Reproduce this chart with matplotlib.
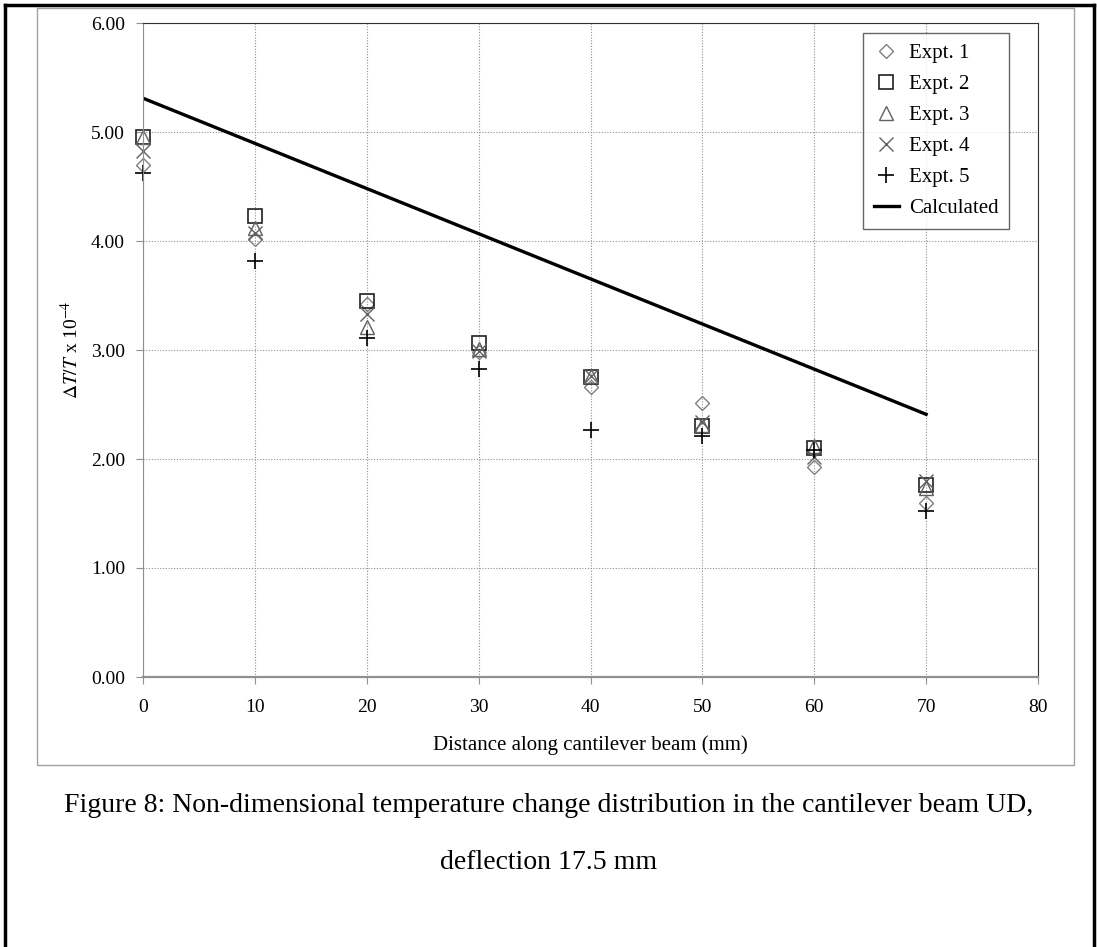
import matplotlib
matplotlib.use('Agg')
import matplotlib.pyplot as plt
from matplotlib.patches import Rectangle
from matplotlib.lines import Line2D

plt.rcParams['font.family'] = 'Liberation Serif'
plt.rcParams['mathtext.fontset'] = 'stix'

# data
dist = [0, 10, 20, 30, 40, 50, 60, 70]
expt1 = [4.70, 4.02, 3.42, 2.98, 2.66, 2.51, 1.93, 1.60]
expt2 = [4.95, 4.23, 3.45, 3.06, 2.75, 2.30, 2.10, 1.76]
expt3 = [4.95, 4.12, 3.21, 3.01, 2.76, 2.31, 2.12, 1.73]
expt4 = [4.83, 4.07, 3.33, 2.99, 2.76, 2.34, 2.02, 1.80]
expt5 = [4.62, 3.82, 3.11, 2.83, 2.27, 2.21, 2.08, 1.52]
calc_x = [0, 70]
calc_y = [5.31, 2.41]

fig = plt.figure(figsize=(10.97, 9.47), dpi=100)

# page frame and chart frame
fig.add_artist(Line2D([5/1097, 5/1097], [0, 1 - 5/947], transform=fig.transFigure, color='black', lw=2.5))
fig.add_artist(Line2D([5/1097, 1 - 3/1097], [1 - 5/947, 1 - 5/947], transform=fig.transFigure, color='black', lw=2.5))
fig.add_artist(Line2D([1 - 3/1097, 1 - 3/1097], [0, 1 - 5/947], transform=fig.transFigure, color='black', lw=2.5))
fig.add_artist(Rectangle((37/1097, 1 - 765/947), (1074 - 37)/1097, (765 - 8)/947,
                         transform=fig.transFigure, fill=False, edgecolor='#a0a0a0', lw=1))

ax = fig.add_axes([143/1097, 1 - 677/947, 895/1097, 654/947])

ms = 9
ax.plot(dist, expt1, ls='None', marker='D', ms=ms*0.78, mfc='none', mec='#808080', mew=1, label='Expt. 1', clip_on=False)
ax.plot(dist, expt2, ls='None', marker='s', ms=ms+1, mfc='none', mec='#202020', mew=1.2, label='Expt. 2', clip_on=False)
ax.plot(dist, expt3, ls='None', marker='^', ms=ms+1, mfc='none', mec='#606060', mew=1, label='Expt. 3', clip_on=False)
ax.plot(dist, expt4, ls='None', marker='x', ms=ms+1, mec='#606060', mew=1, label='Expt. 4', clip_on=False)
ax.plot(dist, expt5, ls='None', marker='+', ms=ms+2, mec='black', mew=1.2, label='Expt. 5', clip_on=False)
ax.plot(calc_x, calc_y, color='black', lw=2.4, label='Calculated')

ax.set_xlim(0, 80)
ax.set_ylim(0, 6)
ax.set_xticks(range(0, 81, 10))
ax.set_yticks([0, 1, 2, 3, 4, 5, 6])
ax.set_yticklabels([f'{v:.2f}' for v in [0, 1, 2, 3, 4, 5, 6]])
ax.grid(True, linestyle=(0, (1, 1.5)), color='#909090', lw=0.8)
ax.set_axisbelow(True)
for s in ['left', 'bottom']:
    ax.spines[s].set_color('#909090')
for s in ['top', 'right']:
    ax.spines[s].set_color('#303030')
ax.spines['bottom'].set_linewidth(1.6)
ax.tick_params(direction='out', length=5, color='#909090', labelsize=14, pad=8)
ax.tick_params(axis='x', pad=11)

ax.set_xlabel('Distance along cantilever beam (mm)', fontsize=15, labelpad=14)
ax.set_ylabel(r'$\Delta T/T$ x 10$^{-4}$', fontsize=14, labelpad=6)

leg = ax.legend(loc='upper right', bbox_to_anchor=(0.9676, 0.9847), borderaxespad=0,
                fontsize=15, frameon=True, fancybox=False, handlelength=1.2,
                handletextpad=0.5, labelspacing=0.55, borderpad=0.5)
leg.get_frame().set_edgecolor('#404040')
leg.get_frame().set_linewidth(1)

fig.text(0.5, 1 - 806/947, 'Figure 8: Non-dimensional temperature change distribution in the cantilever beam UD,',
         ha='center', va='center', fontsize=20)
fig.text(0.5, 1 - 862/947, 'deflection 17.5 mm', ha='center', va='center', fontsize=20)

fig.savefig('out.png', dpi=100)
